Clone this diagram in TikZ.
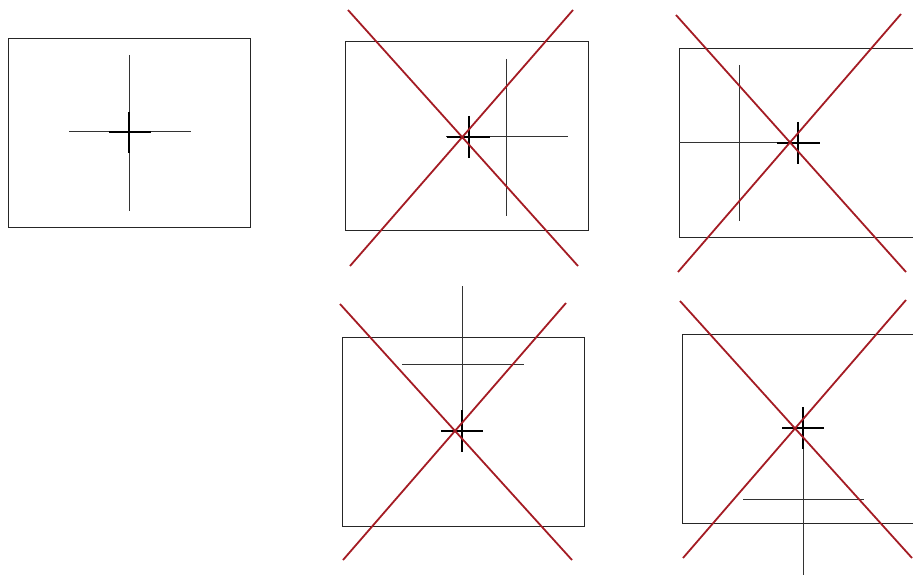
\documentclass[tikz,border=0pt]{standalone}
\definecolor{xred}{RGB}{164,28,36}
\begin{document}
\begin{tikzpicture}[x=1pt,y=-1pt,
  frame/.style={draw=black!85,line width=0.9},
  bigcross/.style={draw=black!80,line width=1},
  smallcross/.style={draw=black,line width=1.25},
  redx/.style={draw=xred,line width=1.8}]
\useasboundingbox (0,0) rectangle (913,575);
\clip (0,0) rectangle (913,575);
% panel 1
\draw[frame] (8,38) rectangle (250,227);
\draw[bigcross] (129,55) -- (129,211) (69,132) -- (191,132);
\draw[smallcross] (129,112) -- (129,153) (109,132) -- (151,132);
% panel 2
\draw[frame] (345,41) rectangle (588,230);
\draw[bigcross] (506,59) -- (506,216) (446,137) -- (568,137);
\draw[smallcross] (469,116) -- (469,158) (447,137) -- (490,137);
\draw[redx] (348,10) -- (578,266) (573,10) -- (350,266);
% panel 3
\draw[frame] (679,48) rectangle (921,237);
\draw[bigcross] (739,65) -- (739,221) (679,143) -- (800,143);
\draw[smallcross] (798,122) -- (798,164) (777,143) -- (820,143);
\draw[redx] (676,15) -- (906,272) (901,14) -- (678,272);
% panel 4
\draw[frame] (342,337) rectangle (584,526);
\draw[bigcross] (462,286) -- (462,452) (402,364) -- (524,364);
\draw[smallcross] (462,410) -- (462,452) (441,431) -- (483,431);
\draw[redx] (340,304) -- (572,560) (566,303) -- (343,560);
% panel 5
\draw[frame] (682,334) rectangle (924,523);
\draw[bigcross] (803,421) -- (803,577) (743,499) -- (864,499);
\draw[smallcross] (803,407) -- (803,449) (782,428) -- (824,428);
\draw[redx] (680,301) -- (912,558) (906,300) -- (683,558);
\end{tikzpicture}
\end{document}
